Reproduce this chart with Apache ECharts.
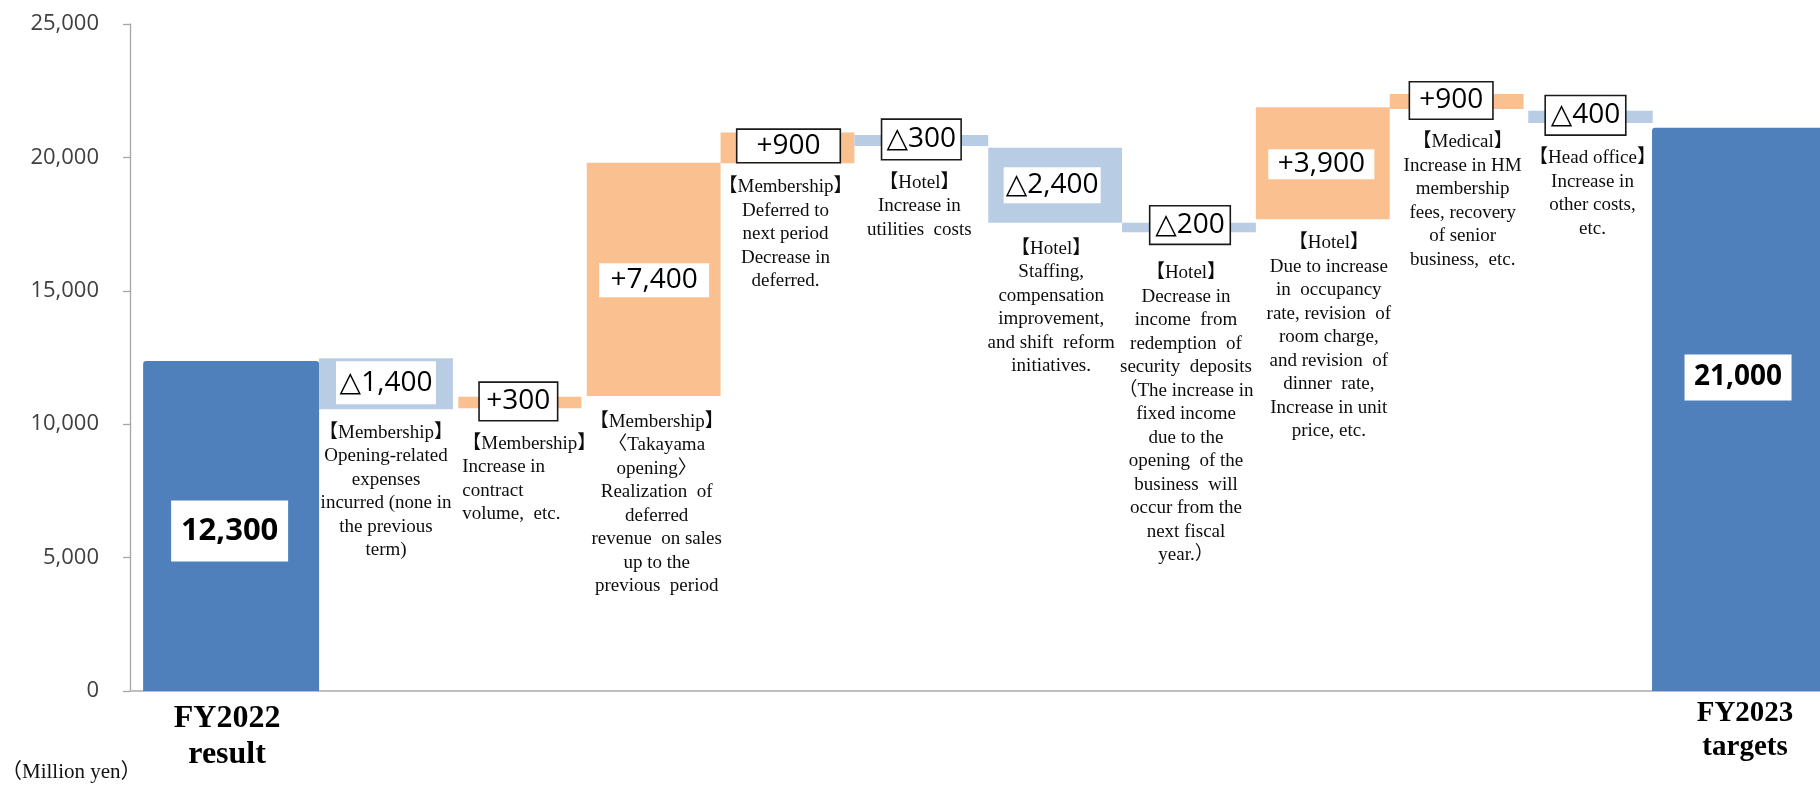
<!DOCTYPE html>
<html>
<head>
<meta charset="utf-8">
<script src="https://cdn.jsdelivr.net/npm/echarts@6/dist/echarts.min.js"></script>
<style>
html,body{margin:0;padding:0;background:#fff;}
#chart{width:1820px;height:787px;}
</style>
</head>
<body>
<div id="chart"></div>
<script>
// ---------------- DATA ----------------
const axisLabels = ['FY2022\nresult', '', '', '', '', '', '', '', '', '', '', 'FY2023\ntargets'];
const barKinds = ['total', 'decrease', 'increase', 'increase', 'increase', 'decrease',
                  'decrease', 'decrease', 'increase', 'increase', 'decrease', 'total'];
const barLow  = [0,     10560, 10600, 11060, 19780, 20430, 17550, 17190, 17680, 21810, 21290, 0];
const barHigh = [12370, 12470, 11030, 19800, 20930, 20840, 20360, 17550, 21880, 22380, 21750, 21110];
const valueLabels = ['12,300', '△1,400', '+300', '+7,400', '+900', '△300',
                     '△2,400', '△200', '+3,900', '+900', '△400', '21,000'];
const notes = [
  '',
  '【Membership】\nOpening-related\nexpenses\nincurred (none in\nthe previous\nterm)',
  '【Membership】\nIncrease in\ncontract\nvolume,  etc.',
  '【Membership】\n〈Takayama\nopening〉\nRealization  of\ndeferred\nrevenue  on sales\nup to the\nprevious  period',
  '【Membership】\nDeferred to\nnext period\nDecrease in\ndeferred.',
  '【Hotel】\nIncrease in\nutilities  costs',
  '【Hotel】\nStaffing,\ncompensation\nimprovement,\nand shift  reform\ninitiatives.',
  '【Hotel】\nDecrease in\nincome  from\nredemption  of\nsecurity  deposits\n（The increase in\nfixed income\ndue to the\nopening  of the\nbusiness  will\noccur from the\nnext fiscal\nyear.）',
  '【Hotel】\nDue to increase\nin  occupancy\nrate, revision  of\nroom charge,\nand revision  of\ndinner  rate,\nIncrease in unit\nprice, etc.',
  '【Medical】\nIncrease in HM\nmembership\nfees, recovery\nof senior\nbusiness,  etc.',
  '【Head office】\nIncrease in\nother costs,\netc.',
  ''
];
const yTicks = [0, 5000, 10000, 15000, 20000, 25000];
const unitNote = '（Million yen）';

// ---------------- LAYOUT / STYLE ----------------
const COLORS = { total: '#4F80BC', increase: '#FAC090', decrease: '#B8CCE4' };
const L = {
  barW:     [1, 1, 0.92, 1, 1, 1, 1, 1, 1, 1, 0.93, 1],
  endW: 1.315, endShift: -0.04,
  labelFont:[31, 28, 28, 28, 28, 28, 28, 28, 28, 28, 28, 28],
  boxW:     [117, 100, 77, 110, 102, 78, 97, 79, 106, 82, 79, 107],
  boxH:     [61, 43, 37, 34, 32, 39, 36, 37, 30, 36, 38, 46],
  boxed:    [0, 0, 1, 0, 1, 1, 0, 1, 0, 1, 1, 0],
  labelDx:  [-1.5, 0, -1.5, 0.5, 1, 0, -3, 1, -1.5, -5.5, -5, -2],
  labelDy:  [5, -1, -1, 1, -2, -1, 0, -2.5, 1, -1, -1.5, -32],
  noteGap:  [0, 12, 12, 14, 12, 12, 14, 18, 12, 12, 12, 0],
  noteDx:   [0, 0, 4, 3, -2, -2, -4, -3, 6, 6, 2, 0],
  noteAlign:['center', 'center', 'left', 'center', 'center', 'center', 'center', 'center', 'center', 'center', 'center', 'center'],
  axisFont: [32, 0, 0, 0, 0, 0, 0, 0, 0, 0, 0, 29],
  axisLh:   [36, 0, 0, 0, 0, 0, 0, 0, 0, 0, 0, 34],
  axisDx:   [-4, 0, 0, 0, 0, 0, 0, 0, 0, 0, 0, 5],
  axisDy:   [10, 0, 0, 0, 0, 0, 0, 0, 0, 0, 0, 6]
};
const NOTE_FONT = '19px "Liberation Serif", "Noto Sans CJK JP", serif';
const VALUE_FAMILY = '"Open Sans", "DejaVu Sans", "Noto Sans CJK JP", sans-serif';
const X_MIN = -0.913, X_MAX = 11.715;

const measureCtx = document.createElement('canvas').getContext('2d');
function textW(t, font) { measureCtx.font = font; return measureCtx.measureText(t).width; }

function renderItem(params, api) {
  const i = api.value(0), lo = api.value(1), hi = api.value(2);
  const last = barKinds.length - 1;
  let xa, xb;
  if (i === 0) { xb = i + 0.5; xa = xb - L.endW; }
  else if (i === last) { xa = i - 0.5 + L.endShift; xb = xa + L.endW; }
  else { xa = i - L.barW[i] / 2; xb = i + L.barW[i] / 2; }
  const pTL = api.coord([xa, hi]);
  const pBR = api.coord([xb, lo]);
  const rect = { x: pTL[0], y: pTL[1], width: pBR[0] - pTL[0], height: pBR[1] - pTL[1] };
  const kind = barKinds[i];
  const children = [{
    type: 'rect',
    shape: Object.assign({ r: kind === 'total' ? [3, 3, 0, 0] : 0 }, rect),
    style: { fill: COLORS[kind] }
  }];
  const cx = rect.x + rect.width / 2;
  const cy = rect.y + rect.height / 2 + L.labelDy[i];
  const font = (kind === 'total' ? 'bold ' : '') + L.labelFont[i] + 'px ' + VALUE_FAMILY;
  const tw = textW(valueLabels[i], font);
  const lh = L.labelFont[i] + 2;
  const padV = Math.max(0, (L.boxH[i] - lh) / 2);
  const padH = Math.max(1, (L.boxW[i] - tw) / 2);
  children.push({
    type: 'text',
    z2: 10,
    style: {
      text: valueLabels[i], x: cx + L.labelDx[i], y: cy,
      align: 'center', verticalAlign: 'middle',
      font: font, lineHeight: lh, fill: '#000',
      backgroundColor: '#fff',
      borderColor: L.boxed[i] ? '#1a1a1a' : null,
      borderWidth: L.boxed[i] ? 1.6 : 0,
      padding: [padV, padH, padV, padH]
    }
  });
  if (notes[i]) {
    const bottom = Math.max(rect.y + rect.height, cy + L.boxH[i] / 2);
    const left = L.noteAlign[i] === 'left';
    children.push({
      type: 'text',
      style: {
        text: notes[i],
        x: left ? rect.x + L.noteDx[i] : cx + L.noteDx[i],
        y: bottom + L.noteGap[i],
        align: left ? 'left' : 'center', verticalAlign: 'top',
        font: NOTE_FONT, lineHeight: 23.5, fill: '#0d0d0d'
      }
    });
  }
  if (axisLabels[i]) {
    const base = api.coord([i, 0])[1];
    children.push({
      type: 'text',
      style: {
        text: axisLabels[i], x: cx + L.axisDx[i], y: base + L.axisDy[i],
        align: 'center', verticalAlign: 'top',
        font: 'bold ' + L.axisFont[i] + 'px "Liberation Serif", serif',
        lineHeight: L.axisLh[i], fill: '#000'
      }
    });
  }
  return { type: 'group', children: children };
}

const chart = echarts.init(document.getElementById('chart'), null, { renderer: 'canvas' });
chart.setOption({
  animation: false,
  backgroundColor: '#fff',
  title: {
    text: unitNote, left: -4, top: 757,
    textStyle: { fontFamily: '"Liberation Serif", "Noto Sans CJK JP", serif', fontSize: 21, fontWeight: 'normal', color: '#111' }
  },
  grid: { left: 130, right: 0, top: 24, bottom: 96, containLabel: false },
  xAxis: {
    type: 'value', min: X_MIN, max: X_MAX,
    axisLine: { show: true, onZero: false, lineStyle: { color: '#BFBFBF', width: 2 } },
    axisTick: { show: false }, axisLabel: { show: false }, splitLine: { show: false }
  },
  yAxis: {
    type: 'value', min: yTicks[0], max: yTicks[yTicks.length - 1], interval: yTicks[1] - yTicks[0],
    axisLine: { show: true, onZero: false, lineStyle: { color: '#A6A6A6', width: 1.3 } },
    axisTick: { show: true, length: 7, lineStyle: { color: '#A6A6A6', width: 1.3 } },
    splitLine: { show: false },
    axisLabel: {
      margin: 31, color: '#404040', fontSize: 22, fontFamily: '"Open Sans", sans-serif',
      formatter: v => v.toLocaleString('en-US')
    }
  },
  series: [{
    type: 'custom',
    clip: false,
    renderItem: renderItem,
    encode: { x: 0, y: [1, 2] },
    data: barKinds.map((k, i) => [i, barLow[i], barHigh[i]])
  }]
});
</script>
</body>
</html>
